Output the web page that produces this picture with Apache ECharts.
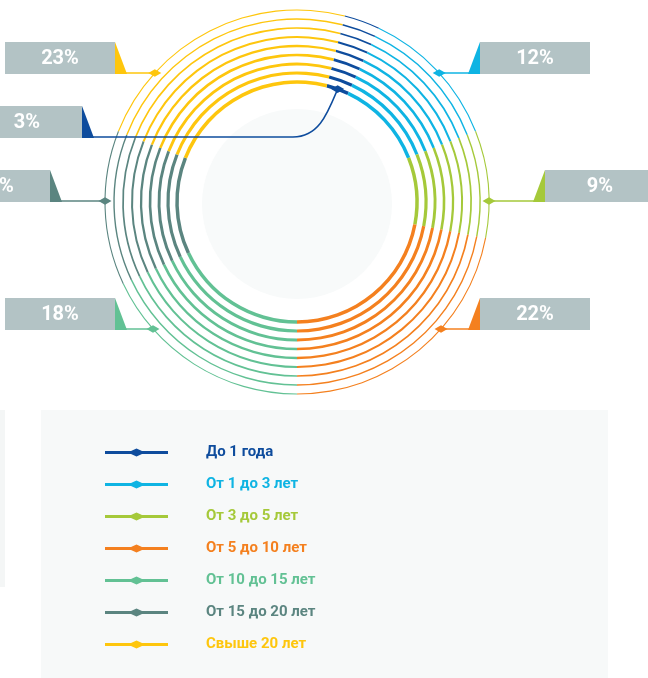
<!DOCTYPE html>
<html>
<head>
<meta charset="utf-8">
<script src="https://cdn.jsdelivr.net/npm/echarts@6/dist/echarts.min.js"></script>
<style>
  html, body { margin: 0; padding: 0; background: #ffffff; }
  #chart { width: 648px; height: 678px; }
</style>
</head>
<body>
<div id="chart"></div>
<script>
// Portfolio split by term (percent of total)
const categories = ['До 1 года', 'От 1 до 3 лет', 'От 3 до 5 лет', 'От 5 до 10 лет', 'От 10 до 15 лет', 'От 15 до 20 лет', 'Свыше 20 лет'];
const shares = [3, 12, 9, 22, 18, 13, 23];
const colors = ['#0e4c9d', '#0fb4e3', '#a5c93a', '#f4801f', '#62c194', '#5b8580', '#fec60d'];

// Geometry of the concentric rings (centre line radius and stroke width, inner to outer)
const CX = 297, CY = 202;
const ringRadii = [120, 129, 138, 147, 156, 165, 174, 183, 192];
const ringWidths = [3.5, 3.2, 2.9, 2.6, 2.3, 2.0, 1.7, 1.4, 1.1];

// Callout boxes: side of the chart, inner edge x, top y
const calloutSlots = [
  { side: 'left', edge: 82, top: 106, toInner: true },
  { side: 'right', edge: 480, top: 42 },
  { side: 'right', edge: 545, top: 170 },
  { side: 'right', edge: 480, top: 298 },
  { side: 'left', edge: 115, top: 298 },
  { side: 'left', edge: 50, top: 170 },
  { side: 'left', edge: 115, top: 42 }
];
const BOX_W = 110, BOX_H = 32, FLAG_W = 12;

const total = shares.reduce((a, b) => a + b, 0);
// "От 5 до 10 лет" closes at six o'clock
const startAngle = -90 + 360 * shares.slice(0, 4).reduce((a, b) => a + b, 0) / total;

const pieData = categories.map((name, i) => ({
  name: name,
  value: shares[i],
  itemStyle: { color: colors[i] }
}));

const ringSeries = ringRadii.map((r, k) => ({
  type: 'pie',
  silent: true,
  center: [CX, CY],
  radius: [r - ringWidths[k] / 2, r + ringWidths[k] / 2],
  startAngle: startAngle,
  clockwise: true,
  label: { show: false },
  labelLine: { show: false },
  emphasis: { disabled: true },
  itemStyle: { borderWidth: 0 },
  data: pieData
}));

// Backdrops and callouts
const graphics = [];
graphics.push({
  type: 'circle', z: 0, silent: true,
  shape: { cx: CX, cy: CY + 2, r: 95 },
  style: { fill: '#f8fafa' }
});
graphics.push({
  type: 'rect', z: 0, silent: true,
  shape: { x: 41, y: 410, width: 567, height: 280 },
  style: { fill: '#f7f9f9' }
});
graphics.push({
  type: 'rect', z: 0, silent: true,
  shape: { x: -10, y: 410, width: 15, height: 177 },
  style: { fill: '#f4f6f6' }
});

const outerR = ringRadii[ringRadii.length - 1];
const innerR = ringRadii[0];

function diamond(x, y, color) {
  return {
    type: 'polygon', z: 12, silent: true,
    shape: { points: [[x - 6.5, y], [x, y - 3.8], [x + 6.5, y], [x, y + 3.8]] },
    style: { fill: color }
  };
}

let acc = 0;
categories.forEach((name, i) => {
  const slot = calloutSlots[i];
  const color = colors[i];
  const top = slot.top, bottom = slot.top + BOX_H;
  const bx = slot.side === 'left' ? slot.edge - BOX_W : slot.edge;
  graphics.push({
    type: 'rect', z: 10, silent: true,
    shape: { x: bx, y: top, width: BOX_W, height: BOX_H },
    style: { fill: '#b3c3c5' }
  });
  graphics.push({
    type: 'text', z: 11, silent: true,
    x: bx + BOX_W / 2, y: top + BOX_H / 2 + 1,
    style: {
      text: shares[i] + '%', fill: '#ffffff',
      font: 'bold 20px Roboto', align: 'center', verticalAlign: 'middle'
    }
  });
  const dir = slot.side === 'left' ? 1 : -1;
  const tipX = slot.edge + dir * FLAG_W;
  const lineY = bottom - 1;
  graphics.push({
    type: 'polygon', z: 11, silent: true,
    shape: { points: [[slot.edge, top], [slot.edge, bottom], [tipX, bottom]] },
    style: { fill: color }
  });

  if (slot.toInner) {
    // leader to the middle of the slice on the innermost ring
    const mid = (startAngle - 360 * (acc + shares[i] / 2) / total) * Math.PI / 180;
    const px = CX + innerR * Math.cos(mid);
    const py = CY - innerR * Math.sin(mid);
    const bendX = 293;
    graphics.push({
      type: 'line', z: 11, silent: true,
      shape: { x1: slot.edge, y1: lineY, x2: bendX, y2: lineY },
      style: { stroke: color, lineWidth: 1.5 }
    });
    graphics.push({
      type: 'bezierCurve', z: 11, silent: true,
      shape: { x1: bendX, y1: lineY, cpx1: bendX + 26, cpy1: lineY, cpx2: px - 10, cpy2: py + 24, x2: px, y2: py },
      style: { stroke: color, lineWidth: 1.5, fill: null }
    });
    graphics.push(diamond(px, py, color));
  } else {
    const dy = lineY - CY;
    const px = CX - dir * Math.sqrt(outerR * outerR - dy * dy);
    graphics.push({
      type: 'line', z: 11, silent: true,
      shape: { x1: slot.edge, y1: lineY, x2: px, y2: lineY },
      style: { stroke: color, lineWidth: 1.5 }
    });
    graphics.push(diamond(px, lineY, color));
  }
  acc += shares[i];
});

// Legend marker: bar with a diamond, followed by empty room before the text
const legendIcon = 'path://M0,5.5L26,5.5L31.5,3L37,5.5L63,5.5L63,8.5L37,8.5L31.5,11L26,8.5L0,8.5Z M0,0 M96,14';

const chart = echarts.init(document.getElementById('chart'), null, { renderer: 'canvas' });
chart.setOption({
  animation: false,
  backgroundColor: '#ffffff',
  legend: {
    orient: 'vertical',
    left: 105,
    top: 445,
    padding: 0,
    itemWidth: 96,
    itemHeight: 14,
    itemGap: 17,
    selectedMode: false,
    itemStyle: { borderWidth: 0 },
    textStyle: { fontFamily: 'Roboto', fontWeight: 'bold', fontSize: 15, lineHeight: 14 },
    data: categories.map((name, i) => ({
      name: name,
      icon: legendIcon,
      itemStyle: { color: colors[i] },
      textStyle: { color: colors[i] }
    }))
  },
  graphic: { elements: graphics },
  series: ringSeries
});
</script>
</body>
</html>
